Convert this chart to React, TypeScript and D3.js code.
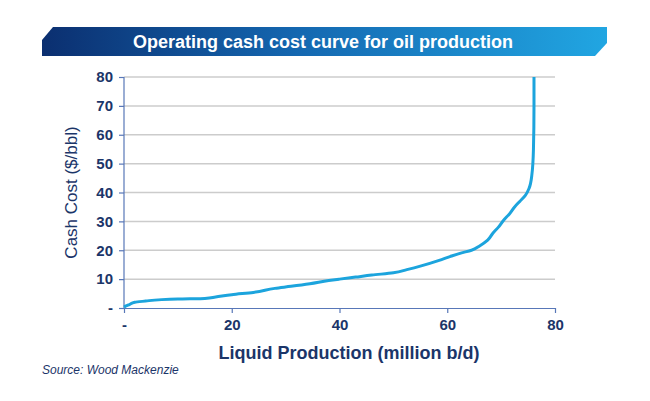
import React, { useEffect, useRef } from 'react'
import * as d3 from 'd3'

// cumulative liquid production (million b/d) vs cash cost ($/bbl)
const production = [0, 0.5, 1, 2, 4, 7, 10, 15, 17, 20, 24, 28, 31, 34.5, 38, 40, 43, 46, 50, 52.5, 55, 58.5, 60.5, 62.5, 64.5, 66, 67.5, 68.5, 69.5, 70.5, 71.5, 72.5, 73.5, 74.5, 75.2, 75.7, 76, 76.1, 76.1]
const cashCost = [0.3, 0.8, 1.2, 2.0, 2.4, 2.9, 3.1, 3.3, 3.8, 4.6, 5.4, 6.8, 7.5, 8.4, 9.5, 10, 10.7, 11.4, 12.2, 13.3, 14.5, 16.5, 17.8, 19, 20, 21.5, 23.5, 26, 28, 30.5, 32.5, 35, 37, 39, 41.5, 46, 55, 70, 80]
const xTicks = [0, 20, 40, 60, 80]
const yTicks = [0, 10, 20, 30, 40, 50, 60, 70, 80]

const title = 'Operating cash cost curve for oil production'
const xTitle = 'Liquid Production (million b/d)'
const yTitle = 'Cash Cost ($/bbl)'
const source = 'Source: Wood Mackenzie'

const W = 650
const H = 401
const font = 'Arial, "Liberation Sans", sans-serif'
const navy = '#1b3569'

const App = () => {
  const ref = useRef<SVGSVGElement>(null)

  useEffect(() => {
    const svg = d3.select(ref.current)
    svg.selectAll('*').remove()

    const x = d3.scaleLinear().domain([0, 80]).range([124, 555])
    const y = d3.scaleLinear().domain([0, 80]).range([308, 77])

    // title banner
    const grad = svg.append('defs').append('linearGradient').attr('id', 'bannerGrad')
    grad.append('stop').attr('offset', '0%').attr('stop-color', '#0b2f70')
    grad.append('stop').attr('offset', '45%').attr('stop-color', '#1467b0')
    grad.append('stop').attr('offset', '100%').attr('stop-color', '#21a6e2')
    svg
      .append('path')
      .attr('d', 'M53,27 L607,27 L607,43 L595,56 L42,56 L42,40 Z')
      .attr('fill', 'url(#bannerGrad)')
    svg
      .append('text')
      .attr('x', 323)
      .attr('y', 48)
      .attr('text-anchor', 'middle')
      .attr('fill', '#fff')
      .attr('font-family', font)
      .attr('font-weight', 'bold')
      .attr('font-size', 18)
      .text(title)

    // gridlines
    svg
      .append('g')
      .selectAll('line')
      .data(yTicks.filter((d) => d > 0))
      .join('line')
      .attr('x1', x(0))
      .attr('x2', x(80))
      .attr('y1', (d) => y(d))
      .attr('y2', (d) => y(d))
      .attr('stroke', '#cccccc')
      .attr('stroke-width', 1.5)

    const fmt = (d: d3.NumberValue) => (+d === 0 ? '-' : String(d))

    const yAxis = svg
      .append('g')
      .attr('transform', `translate(${x(0)},0)`)
      .call(d3.axisLeft(y).tickValues(yTicks).tickFormat(fmt).tickSize(5).tickSizeOuter(0).tickPadding(6))
    const xAxis = svg
      .append('g')
      .attr('transform', `translate(0,${y(0)})`)
      .call(d3.axisBottom(x).tickValues(xTicks).tickFormat(fmt).tickSize(5).tickSizeOuter(0).tickPadding(6))

    ;[yAxis, xAxis].forEach((g) => {
      g.select('.domain').attr('stroke', '#5877b8').attr('stroke-width', 1.2)
      g.selectAll('.tick line').attr('stroke', '#5877b8').attr('stroke-width', 1.2)
      g.selectAll('.tick text')
        .attr('fill', navy)
        .attr('font-family', font)
        .attr('font-weight', 'bold')
        .attr('font-size', 15)
    })
    yAxis.select('.domain').attr('d', `M0,${y(0)}V${y(80)}`)

    // curve
    const pts = production.map((p, i) => [p, cashCost[i]] as [number, number])
    svg
      .append('path')
      .datum(pts)
      .attr('fill', 'none')
      .attr('stroke', '#1ca4dd')
      .attr('stroke-width', 3)
      .attr('stroke-linejoin', 'round')
      .attr(
        'd',
        d3
          .line<[number, number]>()
          .x((d) => x(d[0]))
          .y((d) => y(d[1]))
          .curve(d3.curveMonotoneY)
      )

    // axis titles
    svg
      .append('text')
      .attr('transform', `translate(77,${(y(0) + y(80)) / 2}) rotate(-90)`)
      .attr('text-anchor', 'middle')
      .attr('fill', navy)
      .attr('font-family', font)
      .attr('font-size', 17)
      .text(yTitle)
    svg
      .append('text')
      .attr('x', 349)
      .attr('y', 359)
      .attr('text-anchor', 'middle')
      .attr('fill', navy)
      .attr('font-family', font)
      .attr('font-weight', 'bold')
      .attr('font-size', 18)
      .text(xTitle)
    svg
      .append('text')
      .attr('x', 42)
      .attr('y', 374)
      .attr('fill', navy)
      .attr('font-family', font)
      .attr('font-style', 'italic')
      .attr('font-size', 12)
      .text(source)
  }, [])

  return <svg ref={ref} width={W} height={H} style={{ display: 'block', margin: -8 }} />
}

export default App
